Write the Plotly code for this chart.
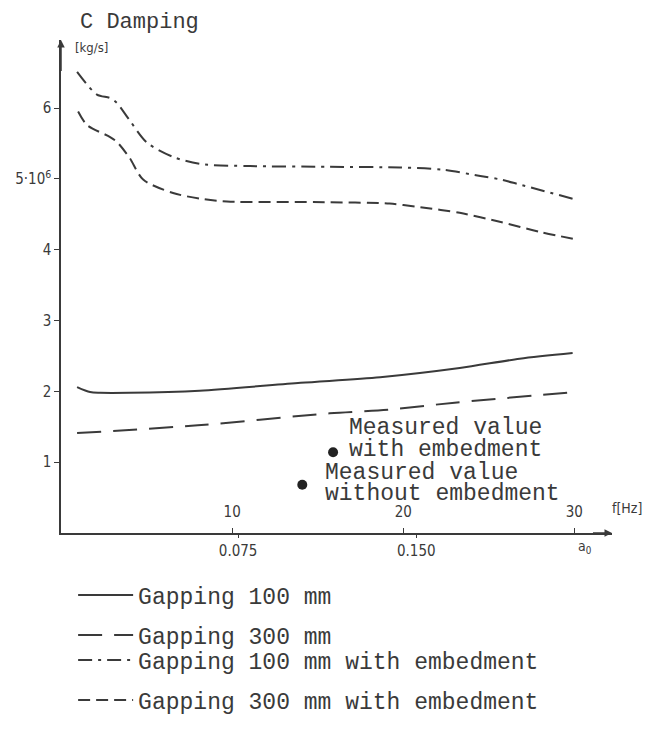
import plotly.graph_objects as go

# ---- data (f in Hz, C in 10^6 kg/s) ----
f_100_emb = [0.94, 2.1, 2.87, 3.27, 4.0, 5.03, 6.55, 8.13, 11.05, 15.7, 19.8, 22.3, 24.5, 25.7, 26.8, 30.2]
c_100_emb = [6.51, 6.19, 6.14, 6.07, 5.83, 5.51, 5.31, 5.21, 5.18, 5.17, 5.16, 5.13, 5.04, 4.99, 4.92, 4.70]

f_300_emb = [1.0, 1.52, 2.87, 3.27, 4.0, 4.8, 6.55, 8.13, 9.7, 15.7, 19.2, 21.0, 23.3, 25.7, 28.0, 30.2]
c_300_emb = [5.95, 5.76, 5.59, 5.52, 5.30, 4.99, 4.80, 4.72, 4.68, 4.67, 4.65, 4.60, 4.52, 4.39, 4.25, 4.14]

f_100 = [0.94, 1.7, 2.28, 4.0, 8.1, 14.0, 18.65, 23.3, 26.8, 29.9]
c_100 = [2.06, 1.99, 1.98, 1.98, 2.01, 2.12, 2.20, 2.33, 2.46, 2.54]

f_300 = [0.94, 8.0, 15.7, 19.1, 23.0, 30.1]
c_300 = [1.41, 1.52, 1.69, 1.74, 1.84, 1.99]

meas_f = [15.9, 14.1]
meas_c = [1.14, 0.68]

y_tickvals = [1, 2, 3, 4, 5, 6]
y_ticktext = ["1", "2", "3", "4", "5·10<sup>6</sup>", "6"]
hz_tickvals = [10, 20, 30]
hz_ticktext = ["10", "20", "30"]
a0_tickvals = [10.35, 20.76]
a0_ticktext = ["0.075", "0.150"]

names = ["Gapping 100 mm", "Gapping 300 mm",
         "Gapping 100 mm with embedment", "Gapping 300 mm with embedment"]

INK = "#3a3a3a"
MONO = "Liberation Mono, Courier New, monospace"
SANS = "Liberation Sans Narrow, DejaVu Sans Condensed, Liberation Sans, sans-serif"

fig = go.Figure()

series = [
    (f_100, c_100, names[0], "solid", "legend"),
    (f_300, c_300, names[1], "24px,12px", "legend2"),
    (f_100_emb, c_100_emb, names[2], "14px,6px,3px,6px", "legend3"),
    (f_300_emb, c_300_emb, names[3], "12px,6px", "legend4"),
]
for fx, cy, nm, dash, lg in series:
    fig.add_trace(go.Scatter(x=fx, y=cy, mode="lines", name=nm, legend=lg,
                             line=dict(color=INK, width=2, dash=dash, shape="spline", smoothing=0.8)))

fig.add_trace(go.Scatter(x=meas_f, y=meas_c, mode="markers", showlegend=False,
                         marker=dict(color="#222", size=10), xaxis="x2"))

ann = []
def txt(x, y, s, size=23, font=MONO, xanchor="left", ref="data"):
    r = "x" if ref == "data" else "paper"
    ry = "y" if ref == "data" else "paper"
    ann.append(dict(x=x, y=y, xref=r, yref=ry, text=s, showarrow=False,
                    xanchor=xanchor, yanchor="middle",
                    font=dict(family=font, size=size, color=INK)))

txt(16.73, 1.48, "Measured value")
txt(16.73, 1.17, "with embedment")
txt(15.32, 0.85, "Measured value")
txt(15.32, 0.55, "without embedment")
txt(0.0309, 1.0345, "C Damping", size=22, ref="paper")
txt(0.7, 6.86, "[kg/s]", size=13, font=SANS)
txt(32.1, 0.35, "f[Hz]", size=14, font=SANS)
txt(0.951, -0.0284, "a<sub>0</sub>", size=14, font=SANS, xanchor="center", ref="paper")

# axis arrows
ann.append(dict(x=0, y=6.96, ax=0, ay=6.5, xref="x", yref="y", axref="x", ayref="y",
                showarrow=True, arrowhead=2, arrowsize=1, arrowwidth=1.5, arrowcolor=INK, text=""))
ann.append(dict(x=32.2, y=0, ax=31.0, ay=0, xref="x", yref="y", axref="x", ayref="y",
                showarrow=True, arrowhead=2, arrowsize=1, arrowwidth=1.5, arrowcolor=INK, text=""))

legend_common = dict(font=dict(family=MONO, size=23, color=INK), bgcolor="rgba(0,0,0,0)",
                     xanchor="left", yanchor="middle", itemwidth=55, x=0.022)

fig.update_layout(
    width=652, height=724,
    margin=dict(l=53, r=48, t=32, b=199, autoexpand=False),
    paper_bgcolor="white", plot_bgcolor="white",
    annotations=ann,
    legend=dict(**legend_common, y=-0.1258),
    legend2=dict(**legend_common, y=-0.2069),
    legend3=dict(**legend_common, y=-0.2576),
    legend4=dict(**legend_common, y=-0.3387),
    xaxis=dict(range=[0, 32.2], showgrid=False, zeroline=False, showline=True,
               linecolor=INK, linewidth=1.5, tickvals=hz_tickvals, ticktext=hz_ticktext,
               ticks="inside", ticklen=5, tickcolor=INK, ticklabelposition="inside",
               ticklabelstandoff=8,
               tickfont=dict(family=SANS, size=15, color=INK)),
    xaxis2=dict(range=[0, 32.2], overlaying="x", side="bottom", showgrid=False, zeroline=False,
                showline=False, tickvals=a0_tickvals, ticktext=a0_ticktext, ticks="outside",
                ticklen=4, tickcolor=INK, tickfont=dict(family=SANS, size=15, color=INK)),
    yaxis=dict(range=[0, 6.96], showgrid=False, zeroline=False, showline=True,
               linecolor=INK, linewidth=1.5, tickvals=y_tickvals, ticktext=y_ticktext,
               ticks="outside", ticklen=5, tickcolor=INK,
               tickfont=dict(family=SANS, size=15, color=INK)),
)

fig.write_html("out.html")
